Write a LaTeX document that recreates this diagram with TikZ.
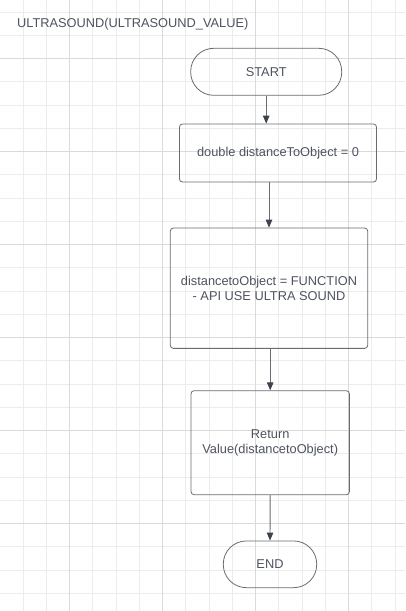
\documentclass[tikz,border=0pt]{standalone}
\usepackage{fontspec}
\setmainfont{Liberation Sans}
\usetikzlibrary{arrows.meta}

\definecolor{gridminor}{RGB}{236,236,236}
\definecolor{gridmajor}{RGB}{218,218,218}
\definecolor{inkgray}{RGB}{78,83,94}
\definecolor{edgegray}{RGB}{105,108,115}
\definecolor{arrowgray}{RGB}{62,66,76}

\tikzset{
	terminal/.style = {draw = edgegray, line width = 0.8pt, rounded corners = 23pt, text = inkgray, align = center},
	process/.style = {draw = edgegray, line width = 0.8pt, rounded corners = 3pt, text = inkgray, align = center},
	flow/.style = {->, draw = edgegray, line width = 0.9pt}
}

\begin{document}
\begin{tikzpicture}[x = 1pt, y = -1pt, > = {Triangle[length = 8pt, width = 6.5pt, color = arrowgray]}, font = \fontsize{12.8}{15.5}\selectfont]

	\useasboundingbox (0, 0) rectangle (405, 611);

	% Grid

	\fill [white] (0, 0) rectangle (405, 611);
	\foreach \k in {0, ..., 17} {
		\draw [gridminor, line width = 0.9pt] ({-0.25 + 23.25 * \k}, 0) -- ({-0.25 + 23.25 * \k}, 611);
	}
	\foreach \k in {-2, ..., 23} {
		\draw [gridminor, line width = 0.9pt] (0, {58.5 + 23.25 * \k}) -- (405, {58.5 + 23.25 * \k});
	}
	\foreach \k in {0, ..., 3} {
		\draw [gridmajor, line width = 1pt] ({69.5 + 93 * \k}, 0) -- ({69.5 + 93 * \k}, 611);
	}
	\foreach \k in {0, ..., 5} {
		\draw [gridmajor, line width = 1pt] (0, {58.5 + 93 * \k}) -- (405, {58.5 + 93 * \k});
	}

	% Title

	\node [anchor = west, inner sep = 0pt, text = inkgray] (title) at (17, 24.5) {ULTRASOUND(ULTRASOUND\_VALUE)};

	% Steps

	\node [terminal, minimum width = 151pt, minimum height = 47pt] (start) at (266.2, 71.8) {START};
	\node [process, minimum width = 197pt, minimum height = 58pt] (init) at (278, 153) {double distanceToObject = 0};
	\node [process, minimum width = 197.4pt, minimum height = 120.3pt] (measure) at (269, 288.2) {distancetoObject = FUNCTION\\- API USE ULTRA SOUND};
	\node [process, minimum width = 158.3pt, minimum height = 104pt] (return) at (270.2, 442.7) {Return\\Value(distancetoObject)};
	\node [terminal, minimum width = 93.4pt, minimum height = 46.7pt] (stop) at (270, 564.3) {END};

	% Arrows

	\draw [flow] (start.south) -- (start.south |- init.north);
	\draw [flow] (measure.north |- init.south) -- (measure.north);
	\draw [flow] (return.north |- measure.south) -- (return.north);
	\draw [flow] (return.south) -- (stop.north);

\end{tikzpicture}
\end{document}
